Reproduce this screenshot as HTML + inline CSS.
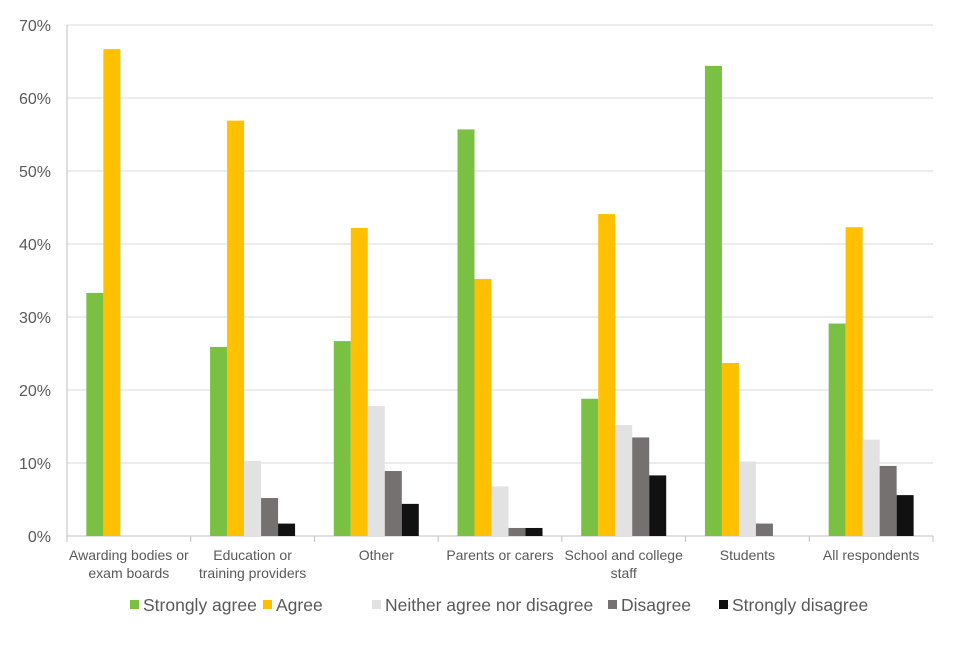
<!DOCTYPE html>
<html><head><meta charset="utf-8"><style>
html,body{margin:0;padding:0;background:#fff;}
svg text{font-family:"Liberation Sans",Arial,sans-serif;fill:#595959;}
</style></head><body>
<svg id="chart" width="960" height="640" xmlns="http://www.w3.org/2000/svg"></svg>
<script>
const categories=[["Awarding bodies or","exam boards"],["Education or","training providers"],["Other"],["Parents or carers"],["School and college","staff"],["Students"],["All respondents"]];
const seriesNames=["Strongly agree","Agree","Neither agree nor disagree","Disagree","Strongly disagree"];
const stronglyAgree=[33.3,25.9,26.7,55.7,18.8,64.4,29.1];
const agree=[66.7,56.9,42.2,35.2,44.1,23.7,42.3];
const neither=[0,10.3,17.8,6.8,15.2,10.2,13.2];
const disagree=[0,5.2,8.9,1.1,13.5,1.7,9.6];
const stronglyDisagree=[0,1.7,4.4,1.1,8.3,0,5.6];
const yTicks=[0,10,20,30,40,50,60,70];

const series=[stronglyAgree,agree,neither,disagree,stronglyDisagree];
const colors=["#7ac143","#ffc000","#e2e2e2","#767171","#111111"];
const svg=document.getElementById('chart');
const NS="http://www.w3.org/2000/svg";
const L=67,R=933,T=25,B=536,YMAX=70;
const y=v=>B-(v/YMAX)*(B-T);
const gw=(R-L)/categories.length;
const bw=17;
const x=(i,s)=>L+i*gw+(gw-bw*5)/2+s*bw;
function mk(tag,attrs){const e=document.createElementNS(NS,tag);for(const k in attrs)e.setAttribute(k,attrs[k]);svg.appendChild(e);return e;}
yTicks.forEach(t=>{
  const g=mk('line',{x1:L,x2:R,y1:y(t),y2:y(t),stroke:t===0?'#bfbfbf':'#d9d9d9','stroke-width':1});
  
  
  const tx=mk('text',{x:L-16,y:y(t)+6,'text-anchor':'end','font-size':16});
  tx.textContent=t+'%';
  
  
});
const ax=mk('line',{x1:L,x2:L,y1:T,y2:B,stroke:'#bfbfbf'});


for(let i=0;i<=categories.length;i++){
  const tk=mk('line',{x1:L+i*gw,x2:L+i*gw,y1:B,y2:B+6,stroke:'#bfbfbf'});
  
  
}
categories.forEach((c,i)=>{
  c.forEach((ln,j)=>{
    const t=mk('text',{x:L+i*gw+gw/2,y:560+j*18,'text-anchor':'middle','font-size':14});
    t.textContent=ln;
    
    
  });
  series.forEach((s,k)=>{
    const v=s[i]; if(v<=0)return;
    const r=mk('rect',{x:x(i,k),y:y(v),width:bw,height:B-y(v),fill:colors[k]});
    
    
  });
});
const legX=[130,263,372,608,719];
seriesNames.forEach((n,k)=>{
  const r=mk('rect',{x:legX[k],y:600,width:9,height:9,fill:colors[k]});
  
  
  const t=mk('text',{x:legX[k]+13,y:611,'font-size':17.5});
  t.textContent=n;
  
  
});
</script>
</body></html>
